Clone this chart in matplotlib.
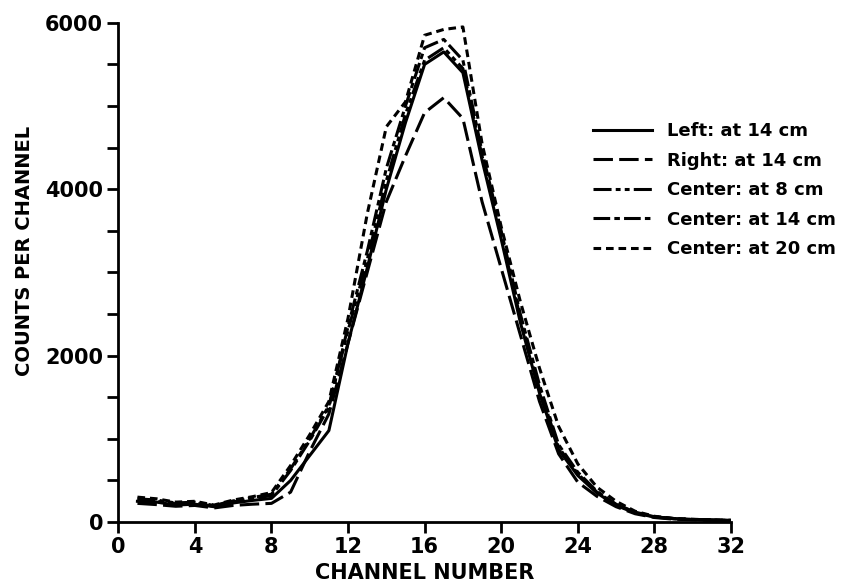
import matplotlib
matplotlib.use("Agg")
import matplotlib.pyplot as plt
import numpy as np

plt.rcParams['font.family'] = ['DejaVu Sans']
plt.rcParams['font.weight'] = 'bold'
plt.rcParams['lines.scale_dashes'] = False

channels = np.arange(1, 33)

left_14 = [250, 240, 205, 215, 185, 230, 260, 285, 500, 800, 1100, 2150, 3050, 4000, 4800, 5500,
           5650, 5400, 4350, 3400, 2400, 1550, 870, 560, 350, 200, 110, 60, 40, 30, 25, 20]
right_14 = [225, 210, 190, 200, 170, 200, 215, 225, 360, 850, 1300, 2150, 3000, 3850, 4400, 4920,
            5100, 4850, 3850, 3050, 2250, 1450, 820, 480, 310, 185, 100, 55, 35, 28, 22, 18]
center_8 = [280, 265, 230, 240, 200, 255, 295, 335, 640, 1000, 1400, 2300, 3150, 4100, 4900, 5550,
            5700, 5450, 4400, 3450, 2450, 1600, 900, 580, 360, 210, 115, 65, 42, 32, 26, 20]
center_14 = [265, 250, 220, 230, 190, 245, 280, 320, 620, 980, 1380, 2350, 3250, 4250, 5000, 5700,
             5800, 5550, 4450, 3500, 2500, 1650, 930, 600, 370, 215, 120, 65, 42, 32, 26, 20]
center_20 = [300, 280, 240, 250, 205, 265, 305, 355, 680, 1050, 1450, 2450, 3700, 4750, 5050, 5850,
             5920, 5950, 4550, 3550, 2650, 1850, 1150, 700, 420, 250, 130, 70, 45, 34, 27, 22]

labels = ['Left: at 14 cm', 'Right: at 14 cm', 'Center: at 8 cm',
          'Center: at 14 cm', 'Center: at 20 cm']
series = [left_14, right_14, center_8, center_14, center_20]
styles = ['-', (0, (14, 4.5)), (0, (13, 3, 3.5, 3, 3.5, 3)),
          (0, (12, 3, 4, 3)), (0, (5.5, 3.5))]

fig = plt.figure(figsize=(8.45, 5.84), dpi=100)
ax = fig.add_axes([0.140, 0.106, 0.725, 0.855])

for vals, ls, lab in zip(series, styles, labels):
    ax.plot(channels, vals, color='black', lw=2.2, linestyle=ls, label=lab)

ax.set_xlim(0, 32)
ax.set_ylim(0, 6000)
ax.set_xticks(np.arange(0, 33, 4))
ax.set_yticks([0, 2000, 4000, 6000])
ax.set_yticks(np.arange(0, 6001, 500), minor=True)
ax.tick_params(axis='both', direction='out', length=8, width=2, labelsize=15, pad=3)
ax.tick_params(axis='y', which='minor', direction='out', length=8, width=2)
ax.spines['top'].set_visible(False)
ax.spines['right'].set_visible(False)
ax.spines['left'].set_linewidth(2)
ax.spines['bottom'].set_linewidth(2)

ax.set_xlabel('CHANNEL NUMBER', fontsize=15, fontweight='bold', labelpad=4)
ax.set_ylabel('COUNTS PER CHANNEL', fontsize=14, fontweight='bold')
ax.yaxis.set_label_coords(-0.138, 0.543)

leg = ax.legend(loc='upper left', bbox_to_anchor=(0.748, 0.833), frameon=False,
                fontsize=13, handlelength=3.3, handletextpad=0.8, labelspacing=0.63)

fig.savefig('out.png', dpi=100)
